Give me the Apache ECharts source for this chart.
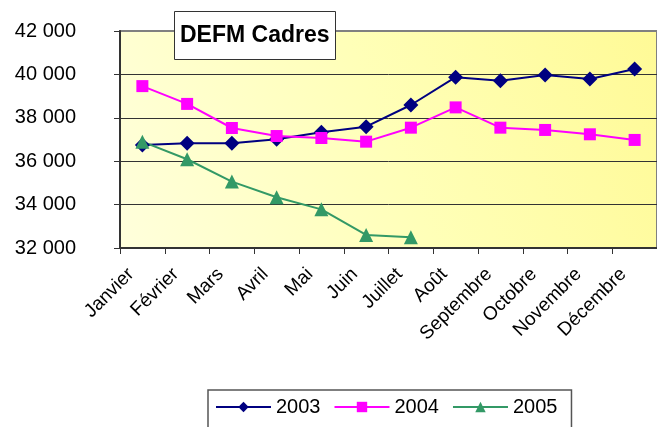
<!DOCTYPE html>
<html><head><meta charset="utf-8">
<script src="https://cdn.jsdelivr.net/npm/echarts@6/dist/echarts.min.js"></script>
<style>html,body{margin:0;padding:0;background:#fff}#c{width:657px;height:427px}</style>
</head><body><div id="c"></div>
<script>
const months = ['Janvier','Février','Mars','Avril','Mai','Juin','Juillet','Août','Septembre','Octobre','Novembre','Décembre'];
const s2003 = [36750, 36830, 36830, 37010, 37330, 37590, 38590, 39870, 39710, 39970, 39790, 40250];
const s2004 = [39460, 38640, 37530, 37160, 37070, 36900, 37545, 38480, 37545, 37440, 37240, 36980];
const s2005 = [36900, 36090, 35060, 34340, 33780, 32600, 32490, null, null, null, null, null];
const yTicks = [32000, 34000, 36000, 38000, 40000, 42000];

const chart = echarts.init(document.getElementById('c'), null, {renderer:'canvas'});
const font = 'Liberation Sans, Arial, sans-serif';
chart.setOption({
  animation: false,
  title: {
    text: 'DEFM Cadres', left: 174, top: 11,
    backgroundColor: '#fff', borderColor: '#333', borderWidth: 1,
    padding: [13, 6, 13, 6],
    textStyle: {fontFamily: font, fontSize: 23, fontWeight: 'bold', color: '#000'}
  },
  legend: {
    left: 208, top: 390,
    data: ['2003','2004','2005'],
    itemWidth: 55, itemHeight: 13, itemGap: 13,
    padding: [7, 14, 20, 7],
    borderColor: '#555', borderWidth: 1.5,
    textStyle: {fontFamily: font, fontSize: 20, color: '#000'}
  },
  grid: {
    left: 120, top: 31, width: 541, height: 217,
    show: true, borderColor: '#808080', borderWidth: 2,
    backgroundColor: {type:'linear', x:1, y:0, x2:0, y2:1,
      colorStops:[{offset:0,color:'#FFFA96'},{offset:0.5,color:'#FFFFB8'},{offset:1,color:'#FFFFDC'}]}
  },
  xAxis: {
    type: 'category', data: months, boundaryGap: true,
    axisLine: {lineStyle: {color: '#333', width: 2}},
    axisTick: {show: true, length: 6, lineStyle: {color: '#333', width: 1}},
    axisLabel: {rotate: 45, margin: 12, interval: 0, padding: [0, 16, 0, 0],
      fontFamily: font, fontSize: 19, color: '#000'}
  },
  yAxis: {
    type: 'value', min: yTicks[0], max: yTicks[yTicks.length-1], interval: 2000,
    axisLine: {show: true, lineStyle: {color: '#333', width: 2}},
    axisTick: {show: true, length: 6, lineStyle: {color: '#333'}},
    axisLabel: {margin: 44, fontFamily: font, fontSize: 20, color: '#000',
      formatter: v => String(v).replace(/\B(?=(\d{3})+(?!\d))/g, ' ')},
    splitLine: {show: true, lineStyle: {color: ['#333','#333','#333','#333','#333','#808080'], width: 1}}
  },
  series: [
    {name:'2003', type:'line', data:s2003, symbol:'diamond', symbolSize:15,
     itemStyle:{color:'#000080'}, lineStyle:{color:'#000080', width:2}},
    {name:'2004', type:'line', data:s2004, symbol:'rect', symbolSize:12,
     itemStyle:{color:'#FF00FF'}, lineStyle:{color:'#FF00FF', width:2}},
    {name:'2005', type:'line', data:s2005, symbol:'triangle', symbolSize:14,
     itemStyle:{color:'#339966'}, lineStyle:{color:'#339966', width:2}}
  ]
});
</script></body></html>
